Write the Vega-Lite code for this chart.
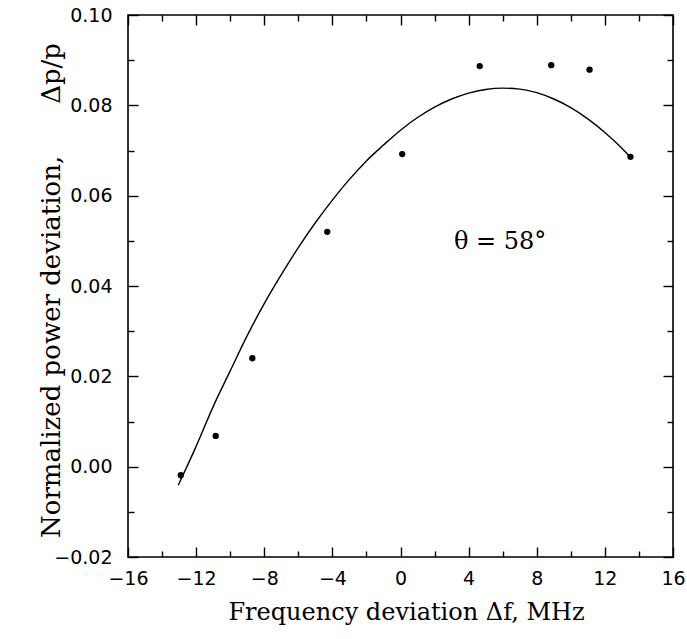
{
  "$schema": "https://vega.github.io/schema/vega-lite/v6.json",
  "width": 545,
  "height": 542,
  "autosize": "none",
  "padding": {"left": 128, "top": 15, "right": 14, "bottom": 82},
  "background": "white",
  "config": {
    "view": {"stroke": "black", "strokeWidth": 1.6},
    "axis": {
      "domain": false,
      "grid": false,
      "tickColor": "black",
      "tickWidth": 1.4,
      "labelColor": "black",
      "labelFont": "DejaVu Sans",
      "labelFontSize": 19,
      "titleColor": "black",
      "titleFont": "DejaVu Serif",
      "titleFontSize": 24,
      "titleFontWeight": "normal"
    }
  },
  "datasets": {
    "measured": [
      {"f": -12.9, "dp": -0.0019},
      {"f": -10.85, "dp": 0.0068},
      {"f": -8.7, "dp": 0.024},
      {"f": -4.3, "dp": 0.052},
      {"f": 0.1, "dp": 0.0692},
      {"f": 4.65, "dp": 0.0887},
      {"f": 8.85, "dp": 0.0889},
      {"f": 11.1, "dp": 0.0879},
      {"f": 13.5, "dp": 0.0686}
    ],
    "fit": [
      {"f": -13.05, "dp": -0.0041},
      {"f": -12, "dp": 0.0045},
      {"f": -11, "dp": 0.0133},
      {"f": -10, "dp": 0.0212},
      {"f": -9, "dp": 0.029},
      {"f": -8, "dp": 0.0361},
      {"f": -7, "dp": 0.0425},
      {"f": -6, "dp": 0.0485},
      {"f": -5, "dp": 0.054},
      {"f": -4, "dp": 0.059},
      {"f": -3, "dp": 0.0636},
      {"f": -2, "dp": 0.0677},
      {"f": -1, "dp": 0.0712},
      {"f": 0, "dp": 0.0745},
      {"f": 1, "dp": 0.0773},
      {"f": 2, "dp": 0.0796},
      {"f": 3, "dp": 0.0814},
      {"f": 4, "dp": 0.0827},
      {"f": 5, "dp": 0.0835},
      {"f": 6, "dp": 0.0838},
      {"f": 7, "dp": 0.0836},
      {"f": 8, "dp": 0.0828},
      {"f": 9, "dp": 0.0814},
      {"f": 10, "dp": 0.0795},
      {"f": 11, "dp": 0.077},
      {"f": 12, "dp": 0.074},
      {"f": 13, "dp": 0.0705},
      {"f": 13.5, "dp": 0.0685}
    ],
    "note": [
      {"f": 5.85, "dp": 0.0498, "label": "θ = 58°"}
    ]
  },
  "layer": [
    {
      "data": {"name": "fit"},
      "mark": {"type": "line", "color": "black", "strokeWidth": 1.4, "interpolate": "monotone"},
      "encoding": {
        "x": {
          "field": "f", "type": "quantitative",
          "scale": {"domain": [-16, 16], "nice": false, "zero": false},
          "axis": {
            "orient": "top", "title": null, "labels": false,
            "values": [-16, -14, -12, -10, -8, -6, -4, -2, 0, 2, 4, 6, 8, 10, 12, 14, 16],
            "tickSize": {"condition": {"test": "datum.value % 4 == 0", "value": -10}, "value": -6}
          }
        },
        "y": {
          "field": "dp", "type": "quantitative",
          "scale": {"domain": [-0.02, 0.1], "nice": false, "zero": false},
          "axis": {
            "orient": "right", "title": null, "labels": false,
            "values": [-0.02, -0.01, 0, 0.01, 0.02, 0.03, 0.04, 0.05, 0.06, 0.07, 0.08, 0.09, 0.1],
            "tickSize": {"condition": {"test": "round(datum.value * 100) % 2 == 0", "value": -10}, "value": -6}
          }
        }
      }
    },
    {
      "data": {"name": "measured"},
      "mark": {"type": "point", "filled": true, "color": "black", "size": 40, "opacity": 1},
      "encoding": {
        "x": {
          "field": "f", "type": "quantitative",
          "scale": {"domain": [-16, 16], "nice": false, "zero": false},
          "axis": {
            "orient": "bottom",
            "title": "Frequency deviation Δf,  MHz",
            "values": [-16, -14, -12, -10, -8, -6, -4, -2, 0, 2, 4, 6, 8, 10, 12, 14, 16],
            "labelExpr": "datum.value % 4 == 0 ? datum.label : ''",
            "tickSize": {"condition": {"test": "datum.value % 4 == 0", "value": -10}, "value": -6},
            "labelPadding": 22,
            "labelFlush": false,
            "labelOverlap": false,
            "titleX": 278,
            "titleY": 55,
            "titleAlign": "center",
            "titleBaseline": "middle"
          }
        },
        "y": {
          "field": "dp", "type": "quantitative",
          "scale": {"domain": [-0.02, 0.1], "nice": false, "zero": false},
          "axis": {
            "orient": "left",
            "title": "Normalized power deviation,\u2003\u2003Δp/p",
            "titleFontSize": 26,
            "values": [-0.02, -0.01, 0, 0.01, 0.02, 0.03, 0.04, 0.05, 0.06, 0.07, 0.08, 0.09, 0.1],
            "format": ".2f",
            "labelExpr": "round(datum.value * 100) % 2 == 0 ? datum.label : ''",
            "tickSize": {"condition": {"test": "round(datum.value * 100) % 2 == 0", "value": -10}, "value": -6},
            "labelPadding": 26,
            "labelFlush": false,
            "labelOverlap": false,
            "titleX": -77,
            "titleY": 275,
            "titleAngle": -90,
            "titleAlign": "center",
            "titleBaseline": "middle"
          }
        }
      }
    },
    {
      "data": {"name": "note"},
      "mark": {"type": "text", "font": "DejaVu Serif", "fontSize": 24, "color": "black", "align": "center", "baseline": "middle"},
      "encoding": {
        "x": {"field": "f", "type": "quantitative", "scale": {"domain": [-16, 16], "nice": false, "zero": false}, "axis": null},
        "y": {"field": "dp", "type": "quantitative", "scale": {"domain": [-0.02, 0.1], "nice": false, "zero": false}, "axis": null},
        "text": {"field": "label"}
      }
    }
  ],
  "resolve": {"axis": {"x": "independent", "y": "independent"}}
}
